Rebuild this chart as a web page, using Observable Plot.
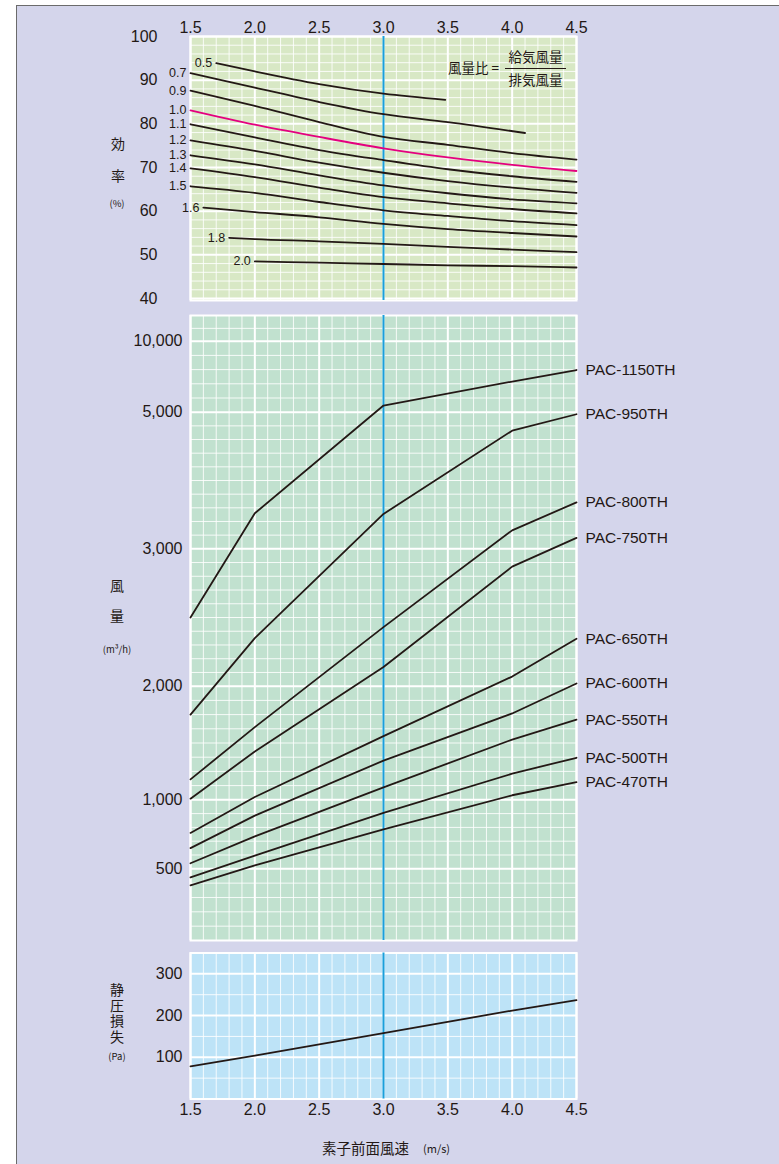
<!DOCTYPE html>
<html><head><meta charset="utf-8">
<script src="https://cdn.jsdelivr.net/npm/d3@7"></script>
<script src="https://cdn.jsdelivr.net/npm/@observablehq/plot@0.6"></script>
<style>
html,body{margin:0;padding:0;background:#fff;}
#root{position:relative;width:779px;height:1164px;overflow:hidden;font-family:"Liberation Sans","Noto Sans CJK JP",sans-serif;color:#231815;}
#bg{position:absolute;left:16px;top:5px;right:-4px;bottom:-4px;background:#d4d5eb;border-left:1.5px solid #6b6b6b;border-top:1.5px solid #6b6b6b;}
.layer{position:absolute;left:0;}
.lbl{position:absolute;transform:translate(-50%,-50%);white-space:nowrap;font-family:"Noto Sans CJK JP",sans-serif;color:#231815;line-height:1;}
.lblR{position:absolute;transform:translate(-100%,-50%);white-space:nowrap;font-family:"Noto Sans CJK JP",sans-serif;color:#231815;line-height:1;}
.lblL{position:absolute;transform:translate(0,-50%);white-space:nowrap;font-family:"Noto Sans CJK JP",sans-serif;color:#231815;line-height:1;}
.vert{position:absolute;transform:translate(-50%,-50%);writing-mode:vertical-rl;font-family:"Noto Sans CJK JP",sans-serif;color:#231815;line-height:1;letter-spacing:1.5px;}
</style></head><body>
<div id="root"><div id="bg"></div></div>
<script>
// ---------- tick labels ----------
const xTicks = [1.5, 2.0, 2.5, 3.0, 3.5, 4.0, 4.5];
const effTicks = [40, 50, 60, 70, 80, 90, 100];
const flowTicks = [500, 1000, 2000, 3000, 5000, 10000];
const pressTicks = [100, 200, 300];
const designSpeed = [3.0];

// ---------- efficiency curves (風量比) : [speed, efficiency %] ----------
const eff05 = [[1.7, 93.9], [2.0, 92.0], [2.5, 89.1], [3.0, 86.9], [3.48, 85.5]];
const eff07 = [[1.5, 91.6], [2.0, 88.3], [2.5, 85.0], [3.0, 82.2], [3.5, 80.4], [4.1, 77.9]];
const eff09 = [[1.5, 87.6], [2.0, 84.1], [2.5, 80.4], [3.0, 77.0], [3.5, 75.2], [4.0, 73.3], [4.5, 71.8]];
const eff10 = [[1.5, 83.1], [2.0, 79.8], [2.5, 77.0], [3.0, 74.4], [3.5, 72.3], [4.0, 70.6], [4.5, 69.2]];
const eff11 = [[1.5, 79.9], [2.0, 76.9], [2.5, 74.0], [3.0, 71.7], [3.5, 69.6], [4.0, 68.0], [4.5, 66.7]];
const eff12 = [[1.5, 76.2], [2.0, 73.8], [2.5, 71.1], [3.0, 68.8], [3.5, 66.9], [4.0, 65.4], [4.5, 64.2]];
const eff13 = [[1.5, 72.8], [2.0, 70.7], [2.5, 68.2], [3.0, 65.9], [3.5, 64.1], [4.0, 62.7], [4.5, 61.8]];
const eff14 = [[1.5, 69.8], [2.0, 67.8], [2.5, 65.4], [3.0, 63.2], [3.5, 61.8], [4.0, 60.5], [4.5, 59.5]];
const eff15 = [[1.5, 65.7], [2.0, 64.2], [2.5, 62.1], [3.0, 60.2], [3.5, 58.9], [4.0, 57.7], [4.5, 56.8]];
const eff16 = [[1.6, 60.8], [2.0, 59.8], [2.5, 58.6], [3.0, 57.1], [3.5, 55.9], [4.0, 55.0], [4.5, 54.2]];
const eff18 = [[1.8, 53.9], [2.0, 53.6], [2.5, 53.1], [3.0, 52.5], [3.5, 51.8], [4.0, 51.2], [4.5, 50.6]];
const eff20 = [[2.0, 48.5], [2.5, 48.2], [3.0, 47.9], [3.5, 47.6], [4.0, 47.4], [4.5, 47.1]];
const effRatios = ["0.5", "0.7", "0.9", "1.0", "1.1", "1.2", "1.3", "1.4", "1.5", "1.6", "1.8", "2.0"];
const effCurves = [eff05, eff07, eff09, eff10, eff11, eff12, eff13, eff14, eff15, eff16, eff18, eff20];

// ---------- air flow (風量 m3/h) per model ----------
const flowSpeeds = [1.5, 2.0, 3.0, 4.0, 4.5];
const models = ["PAC-1150TH", "PAC-950TH", "PAC-800TH", "PAC-750TH", "PAC-650TH", "PAC-600TH", "PAC-550TH", "PAC-500TH", "PAC-470TH"];
const flow1150 = [2500, 3520, 5470, 7160, 7970];
const flow950 = [1750, 2350, 3510, 4730, 4970];
const flow800 = [1180, 1640, 2430, 3270, 3680];
const flow750 = [1010, 1425, 2140, 2870, 3160];
const flow650 = [760, 1025, 1560, 2070, 2345];
const flow600 = [650, 885, 1345, 1760, 2020];
const flow550 = [540, 735, 1110, 1530, 1705];
const flow500 = [440, 595, 905, 1230, 1370];
const flow470 = [385, 525, 785, 1040, 1155];
const flows = [flow1150, flow950, flow800, flow750, flow650, flow600, flow550, flow500, flow470];

// ---------- static pressure loss (Pa) ----------
const pressSpeeds = [1.5, 2.0, 3.0, 4.0, 4.5];
const pressLoss = [78, 104, 158, 212, 237];

// ---------- rows built from arrays ----------
const effRows = effRatios.flatMap((r, i) => effCurves[i].map(([v, e]) => ({ratio: r, v, e})));
const effStarts = effRatios.map((r, i) => ({ratio: r, v: effCurves[i][0][0], e: effCurves[i][0][1]}));
const flowRows = models.flatMap((m, i) => flows[i].map((q, j) => ({model: m, v: flowSpeeds[j], q})));
const flowEnds = models.map((m, i) => ({model: m, v: flowSpeeds[flowSpeeds.length - 1], q: flows[i][flows[i].length - 1]}));
const pressRows = pressSpeeds.map((v, i) => ({v, p: pressLoss[i]}));

// ---------- chart-paper grid ----------
const xAll = d3.range(15, 46).map(d => d / 10);
const xMajor = xAll.filter(d => Math.round(d * 10) % 5 === 0);
const xMinor = xAll.filter(d => Math.round(d * 10) % 5 !== 0);
const effMinor = d3.range(42, 100, 2).filter(d => d % 10 !== 0);
const flowMinor = [100, 200, 300, 400, 600, 700, 800, 900,
  1125, 1250, 1375, 1500, 1625, 1750, 1875,
  2100, 2200, 2300, 2400, 2500, 2600, 2700, 2800, 2900,
  3200, 3400, 3600, 3800, 4000, 4200, 4400, 4600, 4800,
  6000, 7000, 8000, 9000, 11000];
const pressMinor = [50, 150, 250];

const INK = "#231815";
const FONT = '"Liberation Sans","Noto Sans CJK JP",sans-serif';
const minorStyle = {stroke: "#ffffff", strokeOpacity: 0.85, strokeWidth: 1};
const majorStyle = {stroke: "#ffffff", strokeWidth: 2};
const blueStyle = {stroke: "#1a9fdb", strokeWidth: 2};
const baseStyle = {background: "transparent", fontSize: "16px", fontFamily: FONT, color: INK, overflow: "visible"};
const W = 779, ML = 190, MR = 203;

const root = document.getElementById("root");
function place(svg, top) {
  svg.classList.add("layer");
  svg.style.top = top + "px";
  root.appendChild(svg);
}

// ---------- top panel: efficiency ----------
const p1 = Plot.plot({
  width: W, height: 310, marginLeft: ML, marginRight: MR, marginTop: 36, marginBottom: 10,
  style: baseStyle,
  x: {domain: [1.5, 4.5]},
  y: {domain: [40, 100], range: [298, 36]},
  marks: [
    Plot.frame({fill: "#d8e8c5"}),
    Plot.ruleX(xMinor, minorStyle),
    Plot.ruleY(effMinor, minorStyle),
    Plot.ruleX(xMajor, majorStyle),
    Plot.ruleY(effTicks, majorStyle),
    Plot.frame({stroke: "#ffffff", strokeWidth: 2}),
    Plot.ruleX(designSpeed, blueStyle),
    Plot.line(effRows.filter(d => d.ratio !== "1.0"), {x: "v", y: "e", z: "ratio", stroke: INK, strokeWidth: 1.8, curve: "monotone-x"}),
    Plot.line(effRows.filter(d => d.ratio === "1.0"), {x: "v", y: "e", stroke: "#e4007f", strokeWidth: 1.8, curve: "monotone-x"}),
    Plot.text(effStarts, {x: "v", y: "e", text: "ratio", textAnchor: "end", dx: -4, fontSize: 12.5, fill: INK}),
    Plot.axisX({anchor: "top", ticks: xTicks, tickFormat: d => d.toFixed(1), tickSize: 0, tickPadding: 4, label: null}),
    Plot.axisY({ticks: effTicks, tickSize: 0, tickPadding: 33, label: null})
  ]
});
place(p1, 0);

// ---------- middle panel: air flow ----------
const p2 = Plot.plot({
  width: W, height: 650, marginLeft: ML, marginRight: MR, marginTop: 15, marginBottom: 10,
  style: baseStyle,
  x: {domain: [1.5, 4.5], axis: null},
  y: {type: "linear", domain: [0, 500, 1000, 2000, 3000, 5000, 10000, 12000],
      range: [640, 568.3, 499.3, 385.7, 248.3, 111.7, 40.7, 15]},
  marks: [
    Plot.frame({fill: "#c1e1cf"}),
    Plot.ruleX(xMinor, minorStyle),
    Plot.ruleY(flowMinor, minorStyle),
    Plot.ruleX(xMajor, majorStyle),
    Plot.ruleY(flowTicks, majorStyle),
    Plot.frame({stroke: "#ffffff", strokeWidth: 2}),
    Plot.ruleX(designSpeed, blueStyle),
    Plot.line(flowRows, {x: "v", y: "q", z: "model", stroke: INK, strokeWidth: 1.8}),
    Plot.text(flowEnds, {x: "v", y: "q", text: "model", textAnchor: "start", dx: 9, fontSize: 15.5, fill: INK}),
    Plot.axisY({ticks: flowTicks, tickFormat: d3.format(","), tickSize: 0, tickPadding: 8, label: null})
  ]
});
place(p2, 300);

// ---------- bottom panel: static pressure loss ----------
const p3 = Plot.plot({
  width: W, height: 224, marginLeft: ML, marginRight: MR, marginTop: 12.5, marginBottom: 65.5,
  style: baseStyle,
  x: {domain: [1.5, 4.5]},
  y: {domain: [0, 350]},
  marks: [
    Plot.frame({fill: "#bde3f7"}),
    Plot.ruleX(xMinor, minorStyle),
    Plot.ruleY(pressMinor, minorStyle),
    Plot.ruleX(xMajor, majorStyle),
    Plot.ruleY(pressTicks, majorStyle),
    Plot.frame({stroke: "#ffffff", strokeWidth: 2}),
    Plot.ruleX(designSpeed, blueStyle),
    Plot.line(pressRows, {x: "v", y: "p", stroke: INK, strokeWidth: 1.8}),
    Plot.axisX({anchor: "bottom", ticks: xTicks, tickFormat: d => d.toFixed(1), tickSize: 0, tickPadding: 5, label: null}),
    Plot.axisY({ticks: pressTicks, tickSize: 0, tickPadding: 8, label: null})
  ]
});
place(p3, 940);

// ---------- axis titles & annotation (real text) ----------
const labels = [
  ["lbl", "効", 118, 143, 14], ["lbl", "率", 118, 175, 14], ["lbl", "(%)", 117, 204, 9.5],
  ["lbl", "風", 117, 585, 14], ["lbl", "量", 117, 615, 14], ["lbl", "(m³/h)", 117, 650, 9.5],
  ["vert", "静圧損失", 117, 1014, 14], ["lbl", "(Pa)", 117, 1057, 9.5],
  ["lblL", "素子前面風速", 322, 1148, 14.5], ["lblL", "(m/s)", 423, 1148, 11],
  ["lblR", "風量比 =", 499, 68, 13.5], ["lbl", "給気風量", 535.5, 57, 13.5], ["lbl", "排気風量", 535.5, 80, 13.5]
];
for (const [cls, t, x, y, fs] of labels) {
  const d = document.createElement("div");
  d.className = cls;
  d.textContent = t;
  d.style.left = x + "px";
  d.style.top = y + "px";
  d.style.fontSize = fs + "px";
  root.appendChild(d);
}
const bar = document.createElement("div");
bar.style.cssText = "position:absolute;left:505px;top:67.5px;width:61px;height:1px;background:#231815;";
root.appendChild(bar);
</script>
</body></html>
